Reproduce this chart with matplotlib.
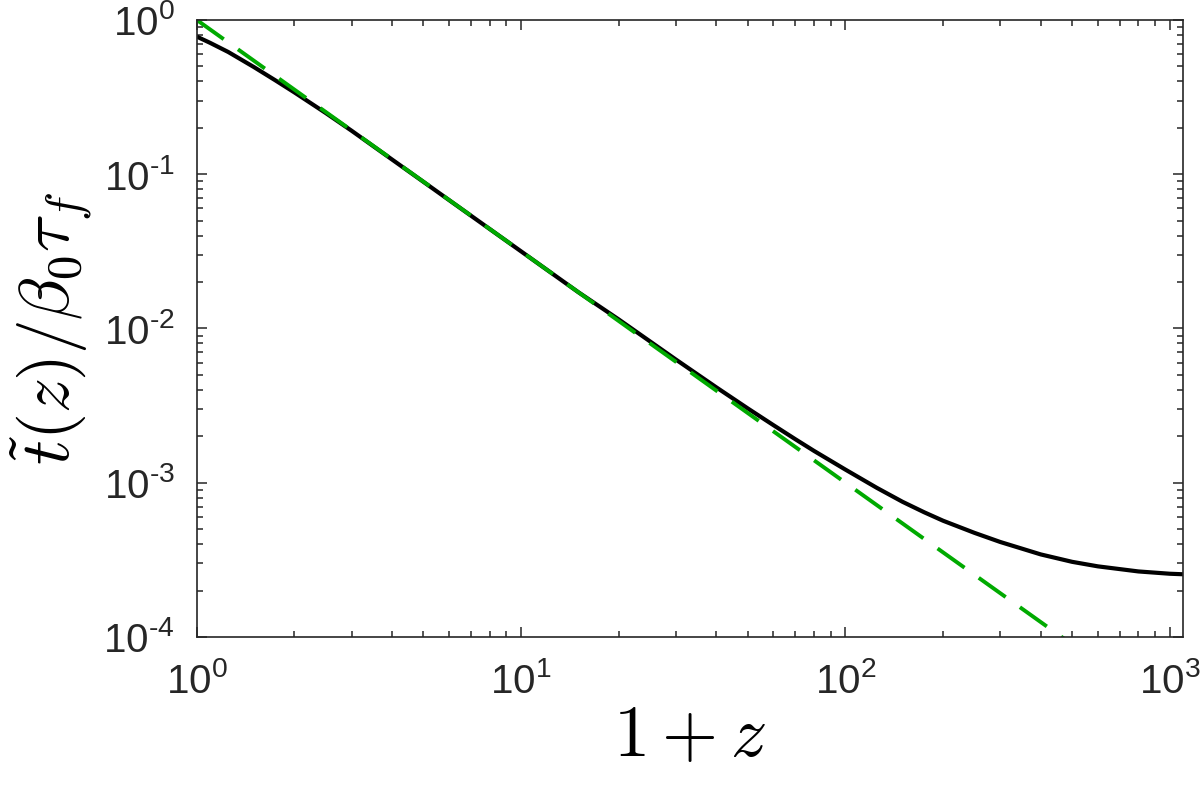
import math
import matplotlib
matplotlib.use("Agg")
import matplotlib.pyplot as plt
from matplotlib.ticker import LogLocator, FuncFormatter, NullFormatter

plt.rcParams['font.family'] = ['Liberation Sans', 'DejaVu Sans']
plt.rcParams['axes.unicode_minus'] = False

# Black curve: t(z)/beta0 tau_f
x_black = [1, 1.1, 1.25, 1.5, 1.75, 2, 2.5, 3, 4, 5, 7, 10, 15, 20, 30, 40,
           50, 60, 70, 80, 100, 125, 150, 175, 200, 250, 300, 400, 500,
           600, 800, 1000, 1100]
y_black = [0.78, 0.71, 0.62, 0.495, 0.405, 0.339, 0.249, 0.1915, 0.1245,
           0.0892, 0.0539, 0.0316, 0.0172, 0.01144, 6.29e-3, 4.15e-3,
           3.03e-3, 2.36e-3, 1.917e-3, 1.608e-3, 1.216e-3, 9.26e-4,
           7.52e-4, 6.43e-4, 5.67e-4, 4.73e-4, 4.13e-4, 3.43e-4, 3.07e-4,
           2.87e-4, 2.66e-4, 2.57e-4, 2.55e-4]

# Green dashed power law
x_green = [1, 10, 100, 1000]
y_green = [1.0, 0.0316, 1.0e-3, 3.16e-5]

xlim = (1, 1100)
ylim = (1e-4, 1)

fig = plt.figure(figsize=(12, 7.86), dpi=100)
ax = fig.add_axes([0.164, 0.1896, 0.822, 0.785])

ax.plot(x_black, y_black, color='black', lw=3.0, solid_capstyle='butt')
ax.plot(x_green, y_green, color='#00aa00', lw=2.8, dashes=(8.5, 4.5))

ax.set_xscale('log')
ax.set_yscale('log')
ax.set_xlim(*xlim)
ax.set_ylim(*ylim)

def fmt(v, pos):
    e = int(round(math.log10(v)))
    s = str(abs(e))
    if e < 0:
        s = '\u2010' + s
    return r'$\mathdefault{10^{%s}}$' % s

ax.xaxis.set_major_locator(LogLocator(base=10, numticks=10))
ax.yaxis.set_major_locator(LogLocator(base=10, numticks=10))
ax.xaxis.set_minor_locator(LogLocator(base=10, subs=range(2, 10), numticks=20))
ax.yaxis.set_minor_locator(LogLocator(base=10, subs=range(2, 10), numticks=20))
ax.xaxis.set_major_formatter(FuncFormatter(fmt))
ax.yaxis.set_major_formatter(FuncFormatter(fmt))
ax.xaxis.set_minor_formatter(NullFormatter())
ax.yaxis.set_minor_formatter(NullFormatter())

spine_c = '#262626'
for s in ax.spines.values():
    s.set_color(spine_c)
    s.set_linewidth(1.2)
ax.tick_params(which='both', direction='in', top=True, right=True,
               colors=spine_c, width=1.1, labelcolor='#262626')
ax.tick_params(which='major', length=7.5, labelsize=29)
ax.tick_params(which='minor', length=4.3)
ax.tick_params(axis='x', which='major', pad=18)
ax.tick_params(axis='y', which='major', pad=16)

ax.set_xlabel(r'$1+z$', fontsize=52, math_fontfamily='cm', labelpad=2)
ax.set_ylabel(r'$\tilde{t}(z)/\beta_0\tau_f$', fontsize=50,
              math_fontfamily='cm', labelpad=6)

fig.savefig('out.png', dpi=100)
